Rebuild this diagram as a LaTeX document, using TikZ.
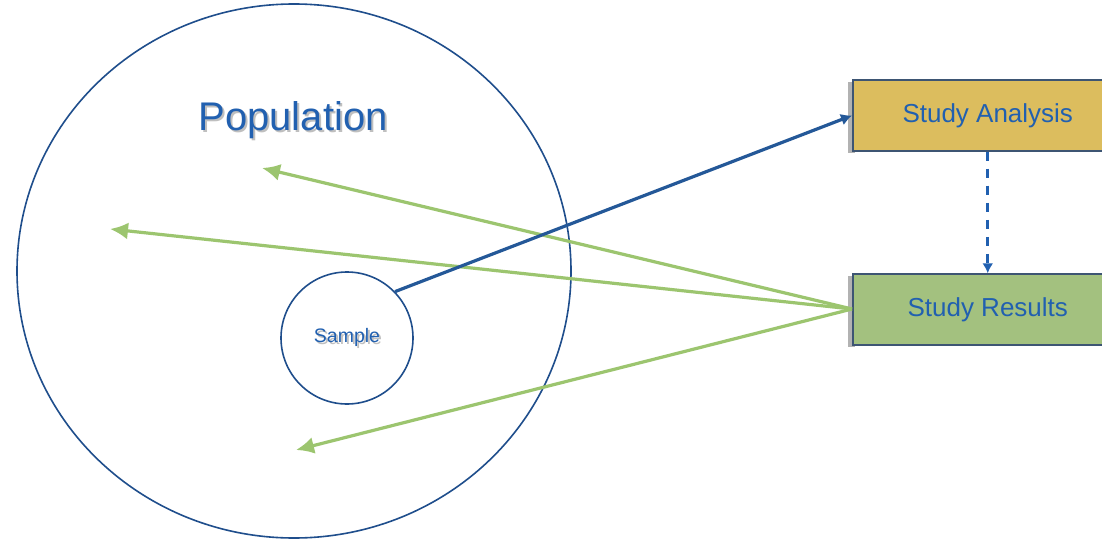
\documentclass[tikz,border=0pt]{standalone}
\usepackage{fontspec}
\setmainfont{Liberation Sans}
\usetikzlibrary{arrows.meta,shapes.geometric}
\definecolor{navy}{HTML}{1F4E8C}
\definecolor{txtblue}{HTML}{2160B0}
\definecolor{gold}{HTML}{DCBD5E}
\definecolor{sage}{HTML}{A3C17F}
\definecolor{boxline}{HTML}{3D5573}
\definecolor{greenline}{HTML}{9CC56F}
\definecolor{bluearrow}{HTML}{245898}
\newcommand\shadowR[1]{\makebox[0pt][l]{\raisebox{-2pt}{\hspace{2pt}\textcolor{black!25}{#1}}}#1}
\tikzset{
  popring/.style={ellipse, draw=navy, line width=1.6pt, minimum width=554pt, minimum height=534pt, inner sep=0pt},
  samplering/.style={circle, draw=navy, line width=1.6pt, minimum size=132pt, inner sep=0pt, text=txtblue, font=\fontsize{19.5}{21}\selectfont},
  studybox/.style={draw=boxline, line width=1.5pt, minimum width=270pt, minimum height=71pt, inner sep=0pt, text=txtblue, font=\fontsize{26}{28}\selectfont},
  greenarrow/.style={draw=greenline, line width=3.2pt, -{Latex[length=18pt,width=17pt]}},
  bluearr/.style={draw=bluearrow, line width=3.2pt, -{Latex[length=11pt,width=12pt]}},
  dasharr/.style={draw=txtblue, line width=2.8pt, dash pattern=on 9pt off 8pt, -{Latex[length=10pt,width=11pt]}}
}
\begin{document}
\begin{tikzpicture}[x=1pt,y=-1pt]
\useasboundingbox[fill=white] (0,0) rectangle (1102,540);
\node[popring] (pop) at (294,271) {};
\node[text=txtblue, font=\fontsize{40}{44}\selectfont] (poplabel) at (293,121) {\shadowR{Population}};
\node[samplering] (sample) at (347,338) {\raisebox{-2.5pt}{\shadowR{Sample}}};
% box shadows
\fill[black!30] (848,82) rectangle (855,153);
\fill[black!30] (848,276) rectangle (855,347);
\node[studybox, fill=gold, anchor=west] (analysis) at (852,115.5) {\raisebox{-3pt}{Study Analysis}};
\node[studybox, fill=sage, anchor=west] (results) at (852,309.5) {\raisebox{-3pt}{Study Results}};
\coordinate (t1) at (262,168);
\coordinate (t2) at (110,229);
\coordinate (t3) at (296,450);
\coordinate (src) at (852,309);
\draw[greenarrow] (src) -- (t1);
\draw[greenarrow] (src) -- (t2);
\draw[greenarrow] (src) -- (t3);
\draw[bluearr] (sample.44) -- (analysis.west);
\draw[dasharr] (analysis.south) -- (results.north);
\end{tikzpicture}
\end{document}
